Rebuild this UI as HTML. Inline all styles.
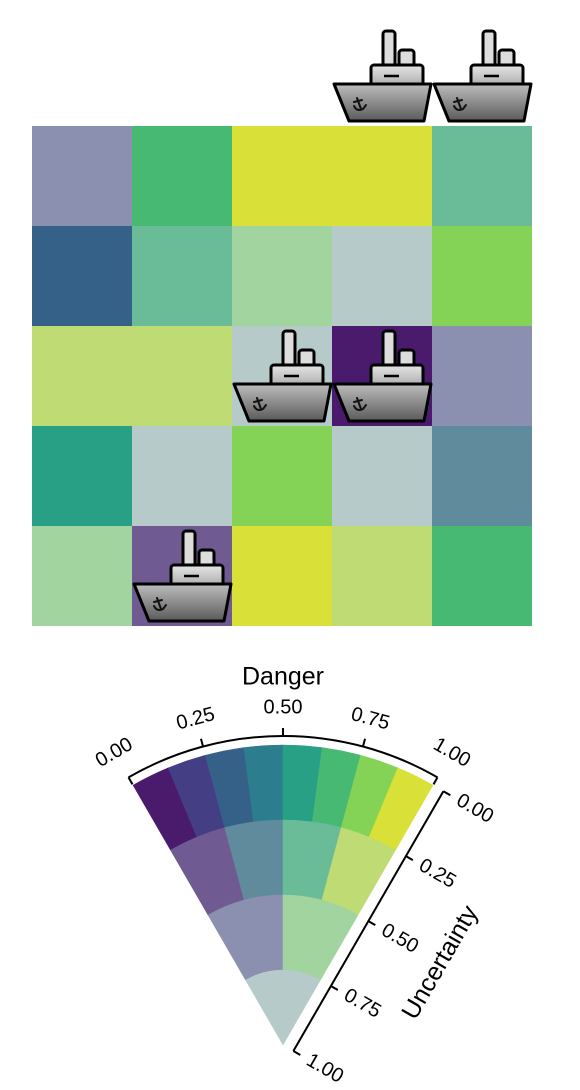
<!DOCTYPE html>
<html><head><meta charset="utf-8">
<style>
html,body{margin:0;padding:0;background:#fff;}
svg{display:block;font-family:"Liberation Sans",Arial,sans-serif;}
</style></head>
<body>
<svg id="chart" width="580" height="1090" viewBox="0 0 580 1090" xmlns="http://www.w3.org/2000/svg">
<defs>
<linearGradient id="hullG" x1="0" y1="0" x2="0" y2="1"><stop offset="0" stop-color="#bdbdbd"/><stop offset="1" stop-color="#5a5a5a"/></linearGradient>
<linearGradient id="cabG" x1="0" y1="0" x2="0" y2="1"><stop offset="0" stop-color="#e6e6e6"/><stop offset="1" stop-color="#a9a9a9"/></linearGradient>
<g id="ship">
<rect x="51" y="9" width="12" height="40" rx="3" fill="#ddd" stroke="#000" stroke-width="3"/>
<rect x="67" y="28" width="15" height="22" rx="3" fill="#ddd" stroke="#000" stroke-width="3"/>
<rect x="39" y="43" width="52" height="22" rx="3" fill="url(#cabG)" stroke="#000" stroke-width="3"/>
<line x1="52" y1="54" x2="67" y2="54" stroke="#000" stroke-width="2.5"/>
<path d="M2,62 L99,62 L92,99 L17,99 Z" fill="url(#hullG)" stroke="#000" stroke-width="3" stroke-linejoin="round"/>
<g stroke="#111" stroke-width="2" fill="none" stroke-linecap="round">
<line x1="25" y1="76" x2="29" y2="87"/>
<line x1="22" y1="80" x2="30" y2="78"/>
<path d="M22,84 Q25,90 31,87 L34,83"/>
</g>
</g>
</defs>
<g id="grid"></g>
<g id="ships"></g>
<g id="legend"></g>
</svg>
<script>
// VSUP palette, rings from low to high uncertainty
const ring0 = ["#4a1b6d","#443f85","#356189","#2c7d8e","#28a086","#48b973","#84d356","#d9e037"];
const ring1 = ["#6f5a91","#5f8b9d","#6abb97","#bfdb73"];
const ring2 = ["#8b90b0","#a2d4a0"];
const ring3 = ["#b6cbc9"];
const rings = [ring0, ring1, ring2, ring3];
// cell values (rows top->bottom, cols left->right)
const danger = [
 [0.2, 0.69, 0.94, 0.94, 0.6],
 [0.31, 0.6, 0.7, 0.5, 0.81],
 [0.85, 0.85, 0.5, 0.06, 0.2],
 [0.56, 0.5, 0.81, 0.5, 0.4],
 [0.7, 0.15, 0.94, 0.85, 0.69]
];
const uncertainty = [
 [0.6, 0.1, 0.1, 0.1, 0.3],
 [0.1, 0.3, 0.6, 0.9, 0.1],
 [0.3, 0.3, 0.9, 0.1, 0.6],
 [0.1, 0.9, 0.1, 0.9, 0.3],
 [0.6, 0.3, 0.1, 0.3, 0.1]
];
// ship positions: [row, col]; row -1 = above grid
const shipCells = [[-1,3],[-1,4],[2,2],[2,3],[4,1]];
const dangerTicks = ["0.00","0.25","0.50","0.75","1.00"];
const uncTicks = ["0.00","0.25","0.50","0.75","1.00"];

const NS="http://www.w3.org/2000/svg";
function mk(tag, attrs, parent){const e=document.createElementNS(NS,tag);for(const k in attrs)e.setAttribute(k,attrs[k]);parent.appendChild(e);return e;}
function colorFor(d,u){const ri=Math.min(3,Math.floor(u*4));const r=rings[ri];const bi=Math.min(r.length-1,Math.floor(d*r.length));return r[bi];}

const gx=32, gy=126, cs=100;
const grid=document.getElementById('grid');
danger.forEach((row,i)=>row.forEach((d,j)=>{
 const r=mk('rect',{x:gx+j*cs,y:gy+i*cs,width:cs,height:cs,fill:colorFor(d,uncertainty[i][j])},grid);
 
 
}));
const ships=document.getElementById('ships');
shipCells.forEach(([ri,cj])=>{
 const u=mk('use',{href:'#ship',x:gx+cj*cs,y:gy+ri*cs-4},ships);
 
 
});

// legend
const L=document.getElementById('legend');
const cx=283, cy=1045, R=300, span=60;
function ang(d){return (-span/2+span*d)*Math.PI/180;}
function pt(r,a){return [cx+r*Math.sin(a), cy-r*Math.cos(a)];}
rings.forEach((cols,ri)=>{
 const r1=R-ri*75, r0=r1-75;
 cols.forEach((c,bi)=>{
  const a0=ang(bi/cols.length), a1=ang((bi+1)/cols.length);
  const p1=pt(r1,a0),p2=pt(r1,a1),p3=pt(r0,a1),p4=pt(r0,a0);
  let d=`M${p1} A${r1},${r1} 0 0 1 ${p2} L${p3}`;
  if(r0>0) d+=` A${r0},${r0} 0 0 0 ${p4}`;
  d+='Z';
  const p=mk('path',{d:d,fill:c,stroke:c,'stroke-width':0.5},L);
  
  
 });
});
// danger axis
const ra=309;
const pa=pt(ra,ang(0)), pb=pt(ra,ang(1));
const arc=mk('path',{d:`M${pa} A${ra},${ra} 0 0 1 ${pb}`,fill:'none',stroke:'#000','stroke-width':2},L);


dangerTicks.forEach((t,i)=>{
 const a=ang(i/(dangerTicks.length-1));
 const q0=pt(ra,a), q1=pt(ra+(i==0||i==dangerTicks.length-1?-8:8),a);
 const tk=mk('line',{x1:q0[0],y1:q0[1],x2:q1[0],y2:q1[1],stroke:'#000','stroke-width':2},L);
 
 
 const lp=pt(337,a);
 const tx=mk('text',{x:lp[0],y:lp[1],'font-size':20,'text-anchor':'middle','dominant-baseline':'middle',transform:`rotate(${a*180/Math.PI} ${lp[0]} ${lp[1]})`},L);
 tx.textContent=t;
 
 
});
const dt=mk('text',{x:cx,y:678,'font-size':25,'text-anchor':'middle','dominant-baseline':'middle'},L);
dt.textContent='Danger';


// uncertainty axis
const ux=0.5, uy=-0.866, px=0.866, py=0.5, off=12;
function up(u,o){const s=R*(1-u);return [cx+s*ux+o*px, cy+s*uy+o*py];}
const u0=up(0,off), u1=up(1,off);
const ul=mk('line',{x1:u0[0],y1:u0[1],x2:u1[0],y2:u1[1],stroke:'#000','stroke-width':2},L);


uncTicks.forEach((t,i)=>{
 const u=i/(uncTicks.length-1);
 const q0=up(u,off), q1=up(u,off+8);
 const tk=mk('line',{x1:q0[0],y1:q0[1],x2:q1[0],y2:q1[1],stroke:'#000','stroke-width':2},L);
 
 
 const lp=up(u,off+36);
 const tx=mk('text',{x:lp[0],y:lp[1],'font-size':20,'text-anchor':'middle','dominant-baseline':'middle',transform:`rotate(30 ${lp[0]} ${lp[1]})`},L);
 tx.textContent=t;
 
 
});
const tp=up(0.5,off+84);
const ut=mk('text',{x:tp[0],y:tp[1],'font-size':25,'text-anchor':'middle','dominant-baseline':'middle',transform:`rotate(-60 ${tp[0]} ${tp[1]})`},L);
ut.textContent='Uncertainty';


</script>
</body></html>
